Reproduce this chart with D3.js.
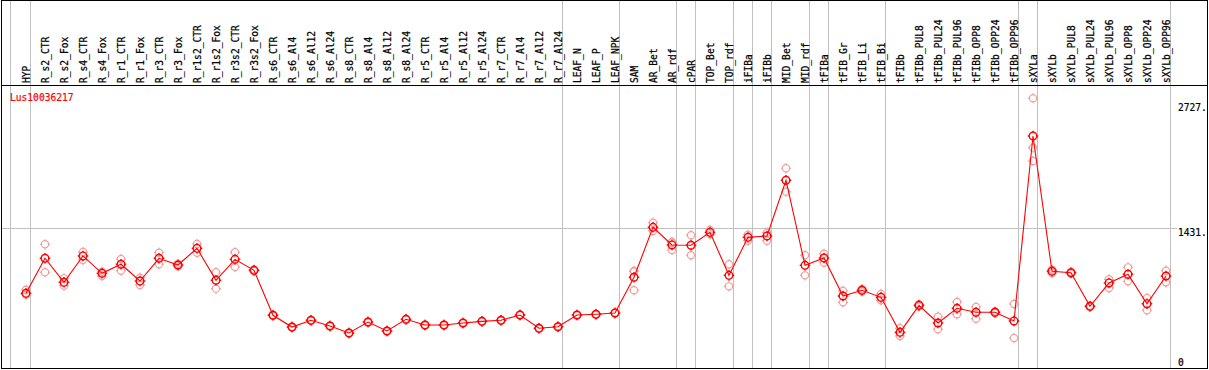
<!DOCTYPE html>
<html>
<head>
<meta charset="utf-8">
<script src="https://cdn.jsdelivr.net/npm/d3@7"></script>
<style>
  body { margin: 0; background: #fff; }
  svg { display: block; }
  text { font-family: "DejaVu Sans Mono", "Liberation Mono", monospace; font-size: 9.6px; }
</style>
</head>
<body>
<svg id="chart" width="1209" height="370"></svg>
<script>
const GENE = "Lus10036217";

const categories = ["HYP", "R_s2_CTR", "R_s2_Fox", "R_s4_CTR", "R_s4_Fox", "R_r1_CTR", "R_r1_Fox",
  "R_r3_CTR", "R_r3_Fox", "R_r1s2_CTR", "R_r1s2_Fox", "R_r3s2_CTR", "R_r3s2_Fox",
  "R_s6_CTR", "R_s6_Al4", "R_s6_Al12", "R_s6_Al24", "R_s8_CTR", "R_s8_Al4", "R_s8_Al12", "R_s8_Al24",
  "R_r5_CTR", "R_r5_Al4", "R_r5_Al12", "R_r5_Al24", "R_r7_CTR", "R_r7_Al4", "R_r7_Al12", "R_r7_Al24",
  "LEAF_N", "LEAF_P", "LEAF_NPK", "SAM", "AR_Bet", "AR_rdf", "cPAR", "TOP_Bet", "TOP_rdf",
  "iFIBa", "iFIBb", "MID_Bet", "MID_rdf", "tFIBa", "tFIB_Gr", "tFIB_Li", "tFIB_Bi",
  "tFIBb", "tFIBb_PUL8", "tFIBb_PUL24", "tFIBb_PUL96", "tFIBb_OPP8", "tFIBb_OPP24", "tFIBb_OPP96",
  "sXYLa", "sXYLb", "sXYLb_PUL8", "sXYLb_PUL24", "sXYLb_PUL96", "sXYLb_OPP8", "sXYLb_OPP24", "sXYLb_OPP96"];

// mean expression per sample
const means = [754, 1117, 868, 1141, 961, 1055, 881, 1117, 1047, 1220, 889, 1106, 992,
  526, 404, 474, 415, 342, 456, 363, 484, 425, 425, 446, 463, 474, 529, 391, 407,
  529, 536, 550, 920, 1438, 1255, 1252, 1386, 940, 1334, 1348, 1926, 1044, 1120, 726, 785, 712,
  349, 629, 446, 598, 557, 557, 467, 2385, 982, 967, 619, 861, 951, 646, 933];

// individual replicates
const replicates = [
  [790, 740], [1262, 972], [909, 833], [1182, 1099], [978, 933], [1109, 988], [916, 840],
  [1175, 1055], [1060, 1035], [1265, 1175], [972, 802], [1179, 1027], [1000, 985],
  [530, 522], [408, 400], [478, 470], [419, 411], [346, 338], [460, 452], [367, 359], [488, 480],
  [429, 421], [429, 421], [450, 442], [467, 459], [478, 470], [533, 525], [395, 387], [411, 403],
  [533, 525], [540, 532], [554, 546], [985, 980, 785], [1486, 1400], [1286, 1280, 1203],
  [1355, 1148], [1410, 1365], [1055, 826], [1361, 1299], [1382, 1299], [2050, 1807],
  [1148, 940], [1164, 1071], [778, 660], [798, 772], [747, 681],
  [391, 311], [640, 618], [511, 381], [664, 536], [612, 490], [565, 549], [643, 290],
  [2776, 2264, 2126], [1000, 963], [975, 960], [625, 613], [899, 809], [1023, 878], [705, 578], [988, 868]];

const yTicks = [0, 1431, 2727];
// last sample of each group, a grey rule follows it
const groupEnds = ["HYP", "R_r7_Al24", "LEAF_NPK", "AR_rdf", "cPAR", "TOP_rdf", "iFIBa", "iFIBb",
  "MID_rdf", "tFIBa", "tFIB_Bi", "tFIBb_OPP96", "sXYLa", "sXYLb_OPP96"];

const svg = d3.select("#chart");

const x = d3.scalePoint().domain(categories).range([26, 1166]);
const y = d3.scaleLinear().domain([0, 2727]).range([366, 103]);

const grid = svg.append("g").attr("shape-rendering", "crispEdges")
  .attr("stroke", "#c0c0c0").attr("stroke-width", 1);

// vertical group rules
grid.append("line")
  .attr("x1", x(categories[0]) - 15.5).attr("x2", x(categories[0]) - 15.5)
  .attr("y1", 0).attr("y2", 368);
grid.selectAll("line.v").data(groupEnds).enter().append("line")
  .attr("class", "v")
  .attr("x1", d => x(d) + 4.5).attr("x2", d => x(d) + 4.5)
  .attr("y1", 0).attr("y2", 368);

// horizontal rule at the middle tick
grid.selectAll("line.h").data(yTicks.filter(t => t > 0 && t < 2727)).enter().append("line")
  .attr("class", "h")
  .attr("x1", 1).attr("x2", 1177)
  .attr("y1", d => Math.round(y(d)) + 0.5).attr("y2", d => Math.round(y(d)) + 0.5);

// frame
const frame = svg.append("g").attr("shape-rendering", "crispEdges")
  .attr("stroke", "#000").attr("fill", "none");
frame.append("rect").attr("x", 1.5).attr("y", 0.5).attr("width", 1206).attr("height", 368);
frame.append("line").attr("x1", 1).attr("x2", 1208).attr("y1", 85.5).attr("y2", 85.5);

// column labels
svg.append("g").selectAll("text").data(categories).enter().append("text")
  .attr("transform", d => `translate(${x(d) + 4},83) rotate(-90)`)
  .attr("fill", "#000")
  .attr("stroke", "#000").attr("stroke-width", 0.25)
  .text(d => d);

// gene name
svg.append("text").attr("x", 10).attr("y", 101)
  .attr("fill", "#ff0000").attr("stroke", "#ff0000").attr("stroke-width", 0.2)
  .text(GENE);

// y tick labels on the right
svg.append("g").selectAll("text").data(yTicks).enter().append("text")
  .attr("x", 1178)
  .attr("y", d => Math.min(y(d) + 8, y(0)))
  .attr("fill", "#000")
  .attr("stroke", "#000").attr("stroke-width", 0.2)
  .text(d => d === 0 ? "0" : d + ".");

// replicate circles
const reps = [];
replicates.forEach((r, i) => r.forEach(v => reps.push({ c: categories[i], v: v })));

function marker(g, r, color, sw) {
  g.append("circle").attr("r", r).attr("fill", "none").attr("stroke", color).attr("stroke-width", sw);
  [[0, -1], [0, 1], [-1, 0], [1, 0]].forEach(([dx, dy]) => {
    g.append("line")
      .attr("x1", dx * r).attr("y1", dy * r)
      .attr("x2", dx * (r + 1.5)).attr("y2", dy * (r + 1.5))
      .attr("stroke", color).attr("stroke-width", sw);
  });
}

svg.append("g").selectAll("g").data(reps).enter().append("g")
  .attr("transform", d => `translate(${x(d.c)},${y(d.v)})`)
  .each(function() { marker(d3.select(this), 3.6, "#f0a0a0", 1.2); });

// mean line
const line = d3.line().x((d, i) => x(categories[i])).y(d => y(d));
svg.append("path").datum(means)
  .attr("d", line)
  .attr("fill", "none").attr("stroke", "#ff0000").attr("stroke-width", 1.1);

svg.append("g").selectAll("g").data(means).enter().append("g")
  .attr("transform", (d, i) => `translate(${x(categories[i])},${y(d)})`)
  .each(function() { marker(d3.select(this), 3.8, "#ff0000", 1.4); });
</script>
</body>
</html>
